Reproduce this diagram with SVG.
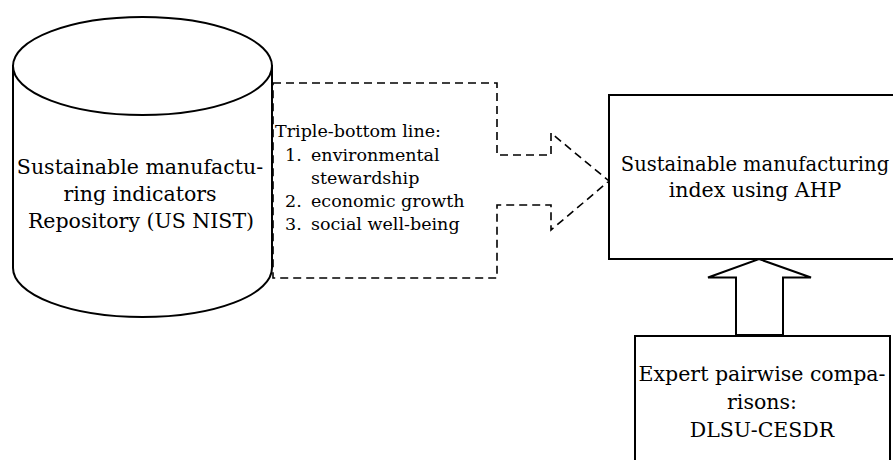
<svg xmlns="http://www.w3.org/2000/svg" width="893" height="460" viewBox="0 0 893 460">
<style>
.solid{fill:#fff;stroke:#000;stroke-width:2}
.dash{fill:none;stroke:#000;stroke-width:1.6;stroke-dasharray:8 5}
.lbl{font-family:"DejaVu Serif","Liberation Serif",serif;font-size:20.5px;fill:#000}
.lst{font-family:"DejaVu Serif","Liberation Serif",serif;font-size:17.5px;fill:#000}
.c{text-anchor:middle}
</style>
<rect width="893" height="460" fill="#fff"/>
<g id="repository">
<path class="solid" d="M13,66 V268 A129.5,49 0 0 0 272,268 V66 Z"/>
<ellipse class="solid" cx="142.5" cy="66" rx="129.5" ry="49"/>
<text class="lbl c" x="140" y="174">Sustainable manufactu-</text>
<text class="lbl c" x="140" y="201">ring indicators</text>
<text class="lbl c" x="141" y="228">Repository (US NIST)</text>
</g>
<g id="triple-bottom-line">
<path class="dash" d="M273,83 H497 V155 H551 V133 L609,181 L551,230 V205 H497 V278 H273 Z"/>
<text class="lst" x="275" y="137">Triple-bottom line:</text>
<text class="lst" x="285" y="160.5">1.</text>
<text class="lst" x="311" y="160.5">environmental</text>
<text class="lst" x="311" y="183.5">stewardship</text>
<text class="lst" x="285" y="206.5">2.</text>
<text class="lst" x="311" y="206.5">economic growth</text>
<text class="lst" x="285" y="229.5">3.</text>
<text class="lst" x="311" y="229.5">social well-being</text>
</g>
<g id="index">
<rect class="solid" x="609" y="95" width="296" height="164"/>
<text class="lbl c" x="755" y="171" style="font-size:19.5px">Sustainable manufacturing</text>
<text class="lbl c" x="755" y="197">index using AHP</text>
</g>
<g id="expert">
<rect class="solid" x="635" y="336" width="255" height="140"/>
<text class="lbl c" x="762" y="381">Expert pairwise compa-</text>
<text class="lbl c" x="762" y="409">risons:</text>
<text class="lbl c" x="762" y="437">DLSU-CESDR</text>
</g>
<g id="connectors">
<path class="solid" d="M759,259 L811,277.5 H783 V335 H736 V277.5 H708 Z"/>
</g>
</svg>
